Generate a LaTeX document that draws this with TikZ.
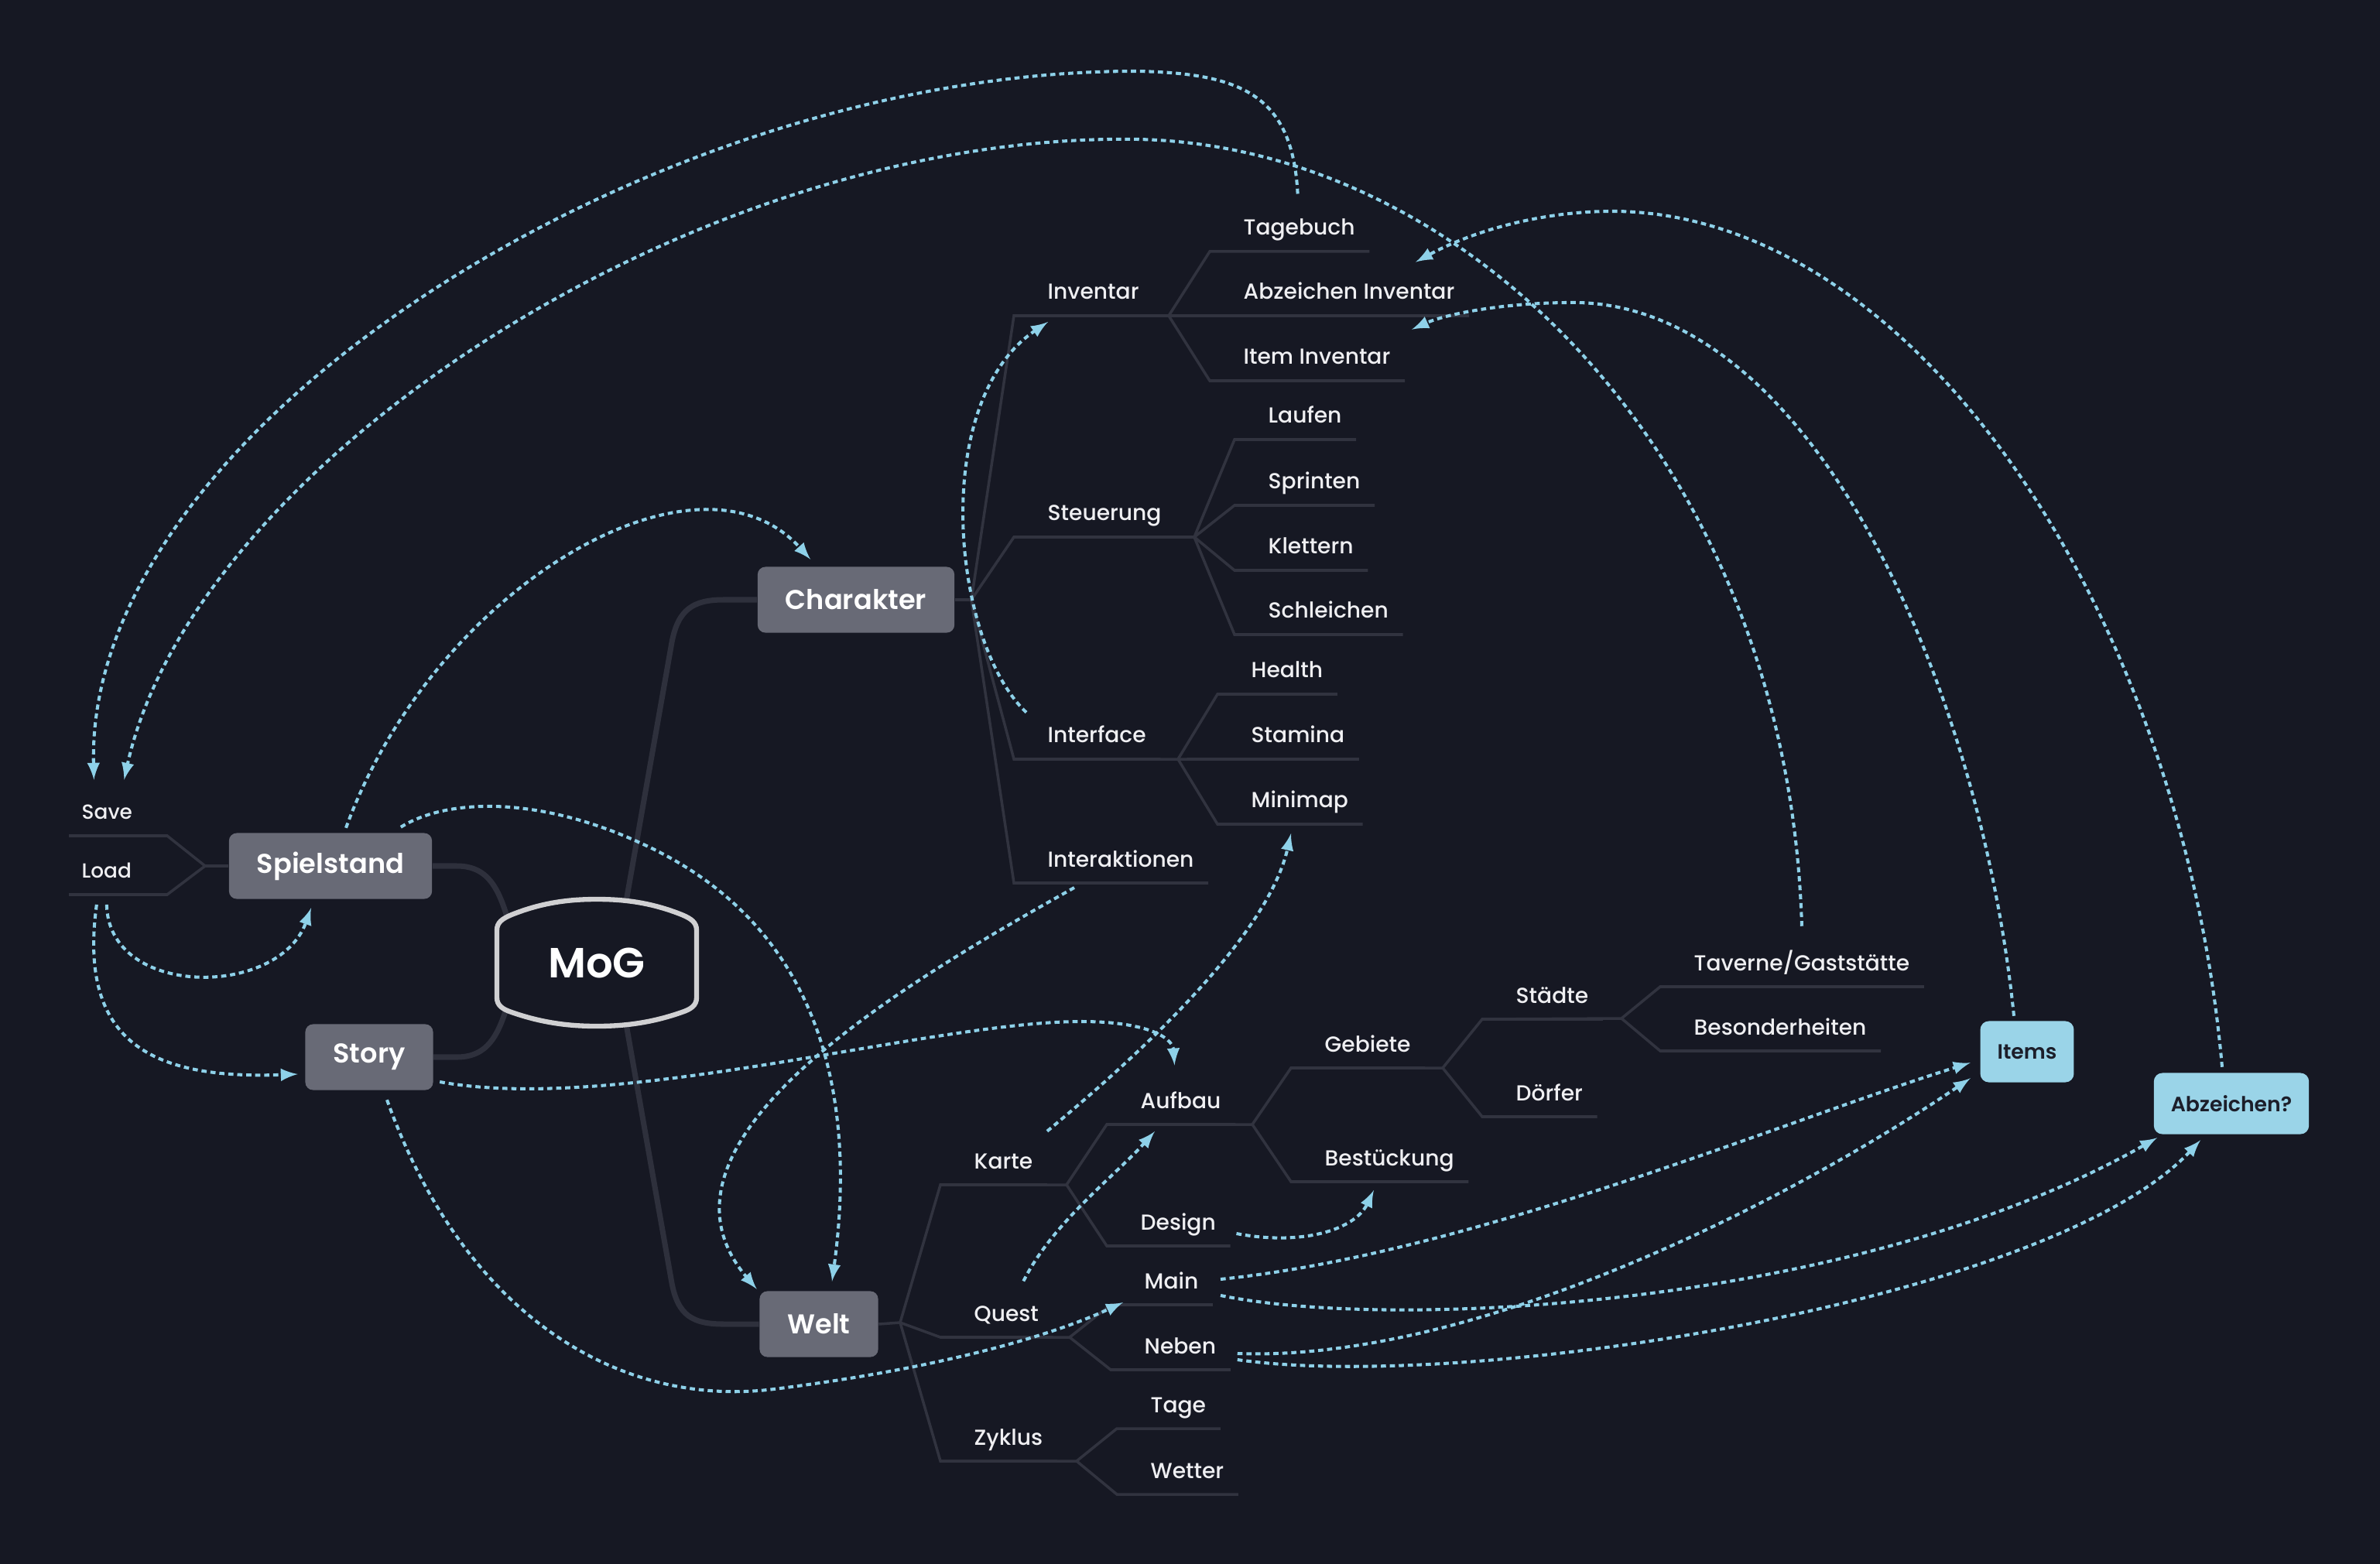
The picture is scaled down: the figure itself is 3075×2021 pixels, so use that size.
\documentclass[tikz,border=0pt]{standalone}
\usepackage{fontspec}
\setmainfont{Poppins}[UprightFont={* Medium},BoldFont={* SemiBold}]
\usetikzlibrary{arrows,calc,backgrounds}

\definecolor{bg}{HTML}{161823}
\definecolor{trunkc}{HTML}{2E303C}
\definecolor{twigc}{HTML}{31333F}
\definecolor{boxgrey}{HTML}{686A76}
\definecolor{boxblue}{HTML}{9AD4E8}
\definecolor{linkblue}{HTML}{8ED1E9}
\definecolor{labeltext}{HTML}{EFEFF2}
\definecolor{darktext}{HTML}{1C1E2A}
\definecolor{mogline}{HTML}{D0D0D2}

\tikzset{
  topic/.style={rectangle, rounded corners=0.1cm, fill=boxgrey, text=white,
    font=\bfseries\fontsize{10}{12}\selectfont, inner xsep=0.36cm, minimum height=0.85cm},
  extra/.style={rectangle, rounded corners=0.11cm, fill=boxblue, text=darktext,
    font=\bfseries\fontsize{7.6}{9}\selectfont, inner xsep=0.22cm, minimum height=0.79cm},
  leaf/.style={font=\fontsize{8}{10}\selectfont, text=labeltext, inner sep=0pt,
    anchor=base west, yshift=0.21cm},
  trunk/.style={draw=trunkc, line width=2pt},
  twig/.style={draw=twigc, line width=1pt},
  mogframe/.style={draw=mogline, line width=1.8pt, fill=bg},
  link/.style={draw=linkblue, line width=1.15pt, dash pattern=on 1.9pt off 1.4pt, -latex}
}

\begin{document}
\begin{tikzpicture}[x=0.01cm, y=-0.01cm]
  \useasboundingbox (0,0) rectangle (3075,2021);

  % centre
  \coordinate (mogc) at (771,1244);
  \draw[mogframe, shift={(mogc)}] (-129,-42) -- (-129,45)
    .. controls (-129,55) and (-122,60) .. (-110,64)
    .. controls (-70,78) and (-35,82) .. (0,82)
    .. controls (35,82) and (70,78) .. (110,64)
    .. controls (122,60) and (129,55) .. (129,45) -- (129,-42)
    .. controls (129,-52) and (122,-57) .. (110,-62)
    .. controls (70,-78) and (35,-82) .. (0,-82)
    .. controls (-35,-82) and (-70,-78) .. (-110,-62)
    .. controls (-122,-57) and (-129,-52) .. (-129,-42) -- cycle;
  \node[font=\bfseries\fontsize{15.5}{18}\selectfont, text=white] (mog) at (mogc) {MoG};

  % main topics
  \node[topic] (char) at (1106,775) {Charakter};
  \node[topic] (welt) at (1058,1711) {Welt};
  \node[topic] (spiel) at (427,1119) {Spielstand};
  \node[topic] (story) at (477,1366) {Story};
  \node[extra] (items) at (2619,1359) {Items};
  \node[extra] (abz) at (2883,1426) {Abzeichen?};

  % Spielstand
  \node[leaf, font=\fontsize{7.5}{9}\selectfont] (save) at (105,1080) {Save};
  \node[leaf, font=\fontsize{7.5}{9}\selectfont] (load) at (105,1156) {Load};
  \coordinate (jspiel) at (265,1119);
  \draw[twig] (spiel.west) -- (jspiel);
  \foreach \n in {save, load}
    \draw[twig] (jspiel) -- ($(\n.base west)+(111,21)$) -- ($(\n.base west)+(-16,21)$);

  % Charakter
  \coordinate (jchar) at (1255,775);
  \draw[twig] (char.east) -- (jchar);
  \foreach \n/\t/\y in {inv/Inventar/408, steu/Steuerung/694, intf/Interface/981, inter/Interaktionen/1141} {
    \node[leaf] (\n) at (1353,\y) {\t};
    \draw[twig] (jchar) -- ($(\n.base west)+(-43,21)$) -- ($(\n.base east)+(18,21)$);
  }
  \coordinate (jinv) at (1510,408);
  \foreach \n/\t/\y in {tagebuch/Tagebuch/325, abzinv/Abzeichen Inventar/408, itinv/Item Inventar/492} {
    \node[leaf] (\n) at (1606,\y) {\t};
    \draw[twig] (jinv) -- ($(\n.base west)+(-43,21)$) -- ($(\n.base east)+(18,21)$);
  }
  \coordinate (jsteu) at (1543,694);
  \foreach \n/\t/\y in {laufen/Laufen/568, sprinten/Sprinten/653, klettern/Klettern/737, schleichen/Schleichen/820} {
    \node[leaf] (\n) at (1638,\y) {\t};
    \draw[twig] (jsteu) -- ($(\n.base west)+(-43,21)$) -- ($(\n.base east)+(18,21)$);
  }
  \coordinate (jintf) at (1522,981);
  \foreach \n/\t/\y in {health/Health/897, stamina/Stamina/981, minimap/Minimap/1065} {
    \node[leaf] (\n) at (1616,\y) {\t};
    \draw[twig] (jintf) -- ($(\n.base west)+(-43,21)$) -- ($(\n.base east)+(18,21)$);
  }

  % Welt
  \coordinate (jwelt) at (1163,1709);
  \draw[twig] (welt.east) -- (jwelt);
  \foreach \n/\t/\y in {karte/Karte/1531, quest/Quest/1728, zyklus/Zyklus/1888} {
    \node[leaf] (\n) at (1258,\y) {\t};
    \draw[twig] (jwelt) -- ($(\n.base west)+(-43,21)$) -- ($(\n.base east)+(18,21)$);
  }
  \coordinate (jkarte) at (1378,1531);
  \foreach \n/\t/\y in {aufbau/Aufbau/1453, design/Design/1610} {
    \node[leaf] (\n) at (1473,\y) {\t};
    \draw[twig] (jkarte) -- ($(\n.base west)+(-43,21)$) -- ($(\n.base east)+(18,21)$);
  }
  \coordinate (jauf) at (1618,1453);
  \foreach \n/\t/\y in {gebiete/Gebiete/1380, bestueck/Bestückung/1527} {
    \node[leaf] (\n) at (1711,\y) {\t};
    \draw[twig] (jauf) -- ($(\n.base west)+(-43,21)$) -- ($(\n.base east)+(18,21)$);
  }
  \coordinate (jgeb) at (1864,1380);
  \foreach \n/\t/\y in {staedte/Städte/1317, doerfer/Dörfer/1443} {
    \node[leaf] (\n) at (1958,\y) {\t};
    \draw[twig] (jgeb) -- ($(\n.base west)+(-43,21)$) -- ($(\n.base east)+(18,21)$);
  }
  \coordinate (jstaedte) at (2095,1316);
  \foreach \n/\t/\y in {taverne/{Taverne/Gaststätte}/1275, beson/Besonderheiten/1358} {
    \node[leaf] (\n) at (2188,\y) {\t};
    \draw[twig] (jstaedte) -- ($(\n.base west)+(-43,21)$) -- ($(\n.base east)+(18,21)$);
  }
  \coordinate (jquest) at (1382,1728);
  \foreach \n/\t/\y in {main/Main/1686, neben/Neben/1770} {
    \node[leaf] (\n) at (1478,\y) {\t};
    \draw[twig] (jquest) -- ($(\n.base west)+(-43,21)$) -- ($(\n.base east)+(18,21)$);
  }
  \coordinate (jzyk) at (1391,1888);
  \foreach \n/\t/\y in {tage/Tage/1846, wetter/Wetter/1931} {
    \node[leaf] (\n) at (1486,\y) {\t};
    \draw[twig] (jzyk) -- ($(\n.base west)+(-43,21)$) -- ($(\n.base east)+(18,21)$);
  }
  % parents run on to their fork
  \foreach \p/\j in {inv/jinv, steu/jsteu, intf/jintf, karte/jkarte, aufbau/jauf,
                     gebiete/jgeb, staedte/jstaedte, quest/jquest, zyklus/jzyk}
    \draw[twig] ($(\p.base west)+(-43,21)$) -- (\j);

  % trunks behind the centre
  \begin{scope}[on background layer]
    \fill[bg] (0,0) rectangle (3075,2021);
    \draw[trunk] ([xshift=0.24cm]mog.center) -- (868,830)
      .. controls (876,788) and (895,775) .. (935,775) -- (char.west);
    \draw[trunk] ([xshift=0.24cm]mog.center) -- (868,1658)
      .. controls (876,1700) and (895,1711) .. (935,1711) -- (welt.west);
    \draw[trunk] (spiel.east) -- (590,1119)
      .. controls (625,1119) and (640,1140) .. (652,1175) -- ($(mog.center)+(-106,-29)$);
    \draw[trunk] (story.east) -- (590,1366)
      .. controls (625,1366) and (640,1345) .. (652,1310) -- ($(mog.center)+(-106,26)$);
  \end{scope}

  % cross links
  \draw[link] ($(tagebuch.north)+(-2,-32)$) .. controls (1670,120) and (1600,95) .. (1470,92)
    .. controls (850,90) and (110,550) .. ($(save.north)+(-17,-32)$);
  \draw[link] ($(taverne.north)+(0,-30)$) .. controls (2310,600) and (1900,190) .. (1471,180)
    .. controls (900,170) and (250,600) .. ($(save.north)+(22,-32)$);
  \draw[link] ($(items.north)+(-17,-6)$) .. controls (2560,900) and (2350,400) .. (2040,391)
    .. controls (1950,390) and (1870,405) .. ($(itinv.north east)+(27,-25)$);
  \draw[link] ($(abz.north)+(-12,-7)$) .. controls (2820,800) and (2480,280) .. (2089,273)
    .. controls (1990,272) and (1900,300) .. ($(abzinv.north east)+(-51,-26)$);
  \draw[link] ($(intf.north west)+(-27,-17)$) .. controls (1230,830) and (1200,520) .. ($(inv.base west)+(1,29)$);
  \draw[link] ($(spiel.north)+(20,-6)$) .. controls (560,760) and (900,560) .. ($(char.north west)+(69,-9)$);
  \draw[link] ($(load.south)+(0,33)$) .. controls (140,1290) and (360,1290) .. ($(spiel.south)+(-25,11)$);
  \draw[link] ($(load.south)+(-13,33)$) .. controls (100,1350) and (200,1395) .. ($(story.west)+(-9,22)$);
  \draw[link] ($(spiel.north east)+(-41,-7)$) .. controls (580,1030) and (700,1030) .. (829,1090)
    .. controls (1050,1190) and (1110,1400) .. ($(welt.north)+(17,-12)$);
  \draw[link] ($(inter.base west)+(35,27)$) .. controls (1150,1280) and (820,1480) .. ($(welt.north west)+(-3,-2)$);
  \draw[link] ($(story.east)+(8,32)$) .. controls (800,1440) and (1200,1320) .. (1397,1320)
    .. controls (1480,1320) and (1515,1340) .. ($(aufbau.north)+(-8,-33)$);
  \draw[link] ($(karte.north east)+(18,-28)$) .. controls (1500,1340) and (1640,1200) .. ($(minimap.base west)+(52,33)$);
  \draw[link] ($(story.south)+(23,12)$) .. controls (600,1700) and (800,1820) .. (1000,1795)
    .. controls (1200,1770) and (1350,1730) .. ($(main.base west)+(-27,18)$);
  \draw[link] ($(quest.north)+(22,-31)$) .. controls (1360,1580) and (1440,1520) .. ($(aufbau.base west)+(19,30)$);
  \draw[link] ($(design.base east)+(26,5)$) .. controls (1680,1610) and (1750,1590) .. ($(bestueck.base west)+(64,32)$);
  \draw[link] ($(main.base east)+(28,-12)$) .. controls (1900,1620) and (2300,1450) .. ($(items.south west)+(-12,-26)$);
  \draw[link] ($(main.base east)+(28,9)$) .. controls (1800,1720) and (2400,1690) .. ($(abz.south west)+(5,4)$);
  \draw[link] ($(neben.base east)+(27,0)$) .. controls (1900,1760) and (2300,1560) .. ($(items.south west)+(-12,-6)$);
  \draw[link] ($(neben.base east)+(27,8)$) .. controls (1900,1800) and (2650,1680) .. ($(abz.south west)+(61,7)$);
\end{tikzpicture}
\end{document}
